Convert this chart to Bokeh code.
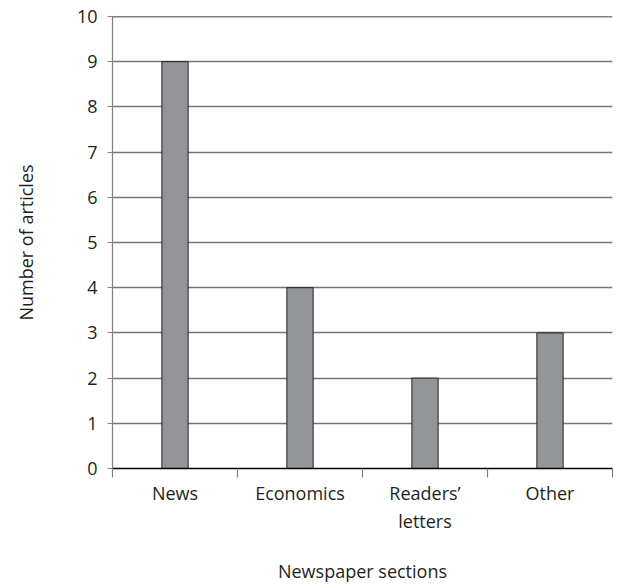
from bokeh.plotting import figure
from bokeh.models import Range1d, FixedTicker, Span
from bokeh.embed import file_html
from bokeh.resources import INLINE

# Articles per newspaper section
sections = ["News", "Economics", "Readers\u2019\nletters", "Other"]
articles = [9, 4, 2, 3]
y_ticks = list(range(0, 11))

FONT = "Open Sans"
TEXT = "#231f20"
SIZE = "18px"

centers = [i + 0.5 for i in range(len(sections))]
bounds = list(range(len(sections) + 1))

p = figure(width=619, height=588, output_backend="svg", toolbar_location=None,
           x_range=Range1d(0, len(sections)), y_range=Range1d(0, 10),
           min_border_left=112, min_border_right=7, min_border_top=16,
           min_border_bottom=120)
p.outline_line_color = None
p.background_fill_color = "white"
p.border_fill_color = "white"

p.vbar(x=centers, top=articles, width=0.21, bottom=0,
       fill_color="#939598", line_color="#231f20", line_width=1)

# y grid and axis
p.xgrid.visible = False
p.ygrid.ticker = FixedTicker(ticks=y_ticks)
p.ygrid.grid_line_color = "#767676"
p.ygrid.grid_line_width = 1.4

p.add_layout(Span(location=10, dimension="width", line_color="black", line_width=1.5))

ya = p.yaxis[0]
ya.ticker = FixedTicker(ticks=y_ticks)
ya.axis_line_color = "#808080"
ya.axis_line_width = 1.2
ya.major_tick_line_color = "#808080"
ya.major_tick_out = 5
ya.major_tick_in = 0
ya.minor_tick_line_color = None
ya.major_label_standoff = 10
ya.major_label_text_font = FONT
ya.major_label_text_font_size = SIZE
ya.major_label_text_color = TEXT
ya.axis_label = "Number of articles"
ya.axis_label_text_font = FONT
ya.axis_label_text_font_size = SIZE
ya.axis_label_text_font_style = "normal"
ya.axis_label_text_color = TEXT
ya.axis_label_standoff = 36

# x axis: labels at category centres, tick marks at category boundaries
xa = p.xaxis[0]
xa.ticker = FixedTicker(ticks=centers, minor_ticks=bounds)
xa.major_label_overrides = {c: s for c, s in zip(centers, sections)}
xa.axis_line_color = "black"
xa.axis_line_width = 1.5
xa.major_tick_line_color = None
xa.major_tick_out = 0
xa.major_tick_in = 0
xa.minor_tick_line_color = "#808080"
xa.minor_tick_line_width = 1.2
xa.minor_tick_out = 9
xa.minor_tick_in = 0
xa.major_label_standoff = 3
xa.major_label_text_font = FONT
xa.major_label_text_font_size = SIZE
xa.major_label_text_color = TEXT
xa.axis_label = "Newspaper sections"
xa.axis_label_text_font = FONT
xa.axis_label_text_font_size = SIZE
xa.axis_label_text_font_style = "normal"
xa.axis_label_text_color = TEXT
xa.axis_label_standoff = 23

open("out.html", "w").write(file_html(p, INLINE))
